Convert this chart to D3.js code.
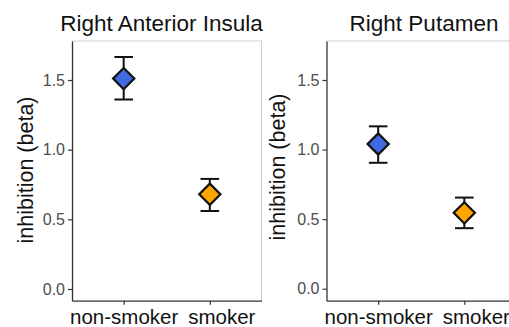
<!DOCTYPE html>
<html><head><meta charset="utf-8">
<script src="https://cdn.jsdelivr.net/npm/d3@7"></script>
<style>
html,body{margin:0;padding:0;background:#fff;}
svg{display:block;font-family:"Liberation Sans",Arial,Helvetica,sans-serif;}
</style></head>
<body>
<svg id="c" width="509" height="327"></svg>
<script>
const categories = ["non-smoker", "smoker"];
const panelTitles = ["Right Anterior Insula", "Right Putamen"];
const insulaMean = [1.51, 0.68];
const insulaLower = [1.36, 0.56];
const insulaUpper = [1.665, 0.79];
const putamenMean = [1.04, 0.545];
const putamenLower = [0.905, 0.435];
const putamenUpper = [1.167, 0.655];
const yTicks = [0, 0.5, 1.0, 1.5];
const yLabel = "inhibition (beta)";
const groupColors = ["#4169E1", "#FFA500"];

const panels = [
  {title: panelTitles[0], mean: insulaMean, lower: insulaLower, upper: insulaUpper,
   left: 72, titleX: 161.5, labelX: 33, labelY: 170, zero: 289},
  {title: panelTitles[1], mean: putamenMean, lower: putamenLower, upper: putamenUpper,
   left: 326.5, titleX: 424, labelX: 285, labelY: 167, zero: 288.7}
];
const pw = 189.5, panelTop = 41, panelBottom = 300.7;
const labelShift = [0, 11.5];

const svg = d3.select("#c");

panels.forEach(p => {
  const g = svg.append("g");
  const x = d3.scalePoint().domain(categories).range([p.left, p.left + pw]).padding(0.6);
  const k = (p.zero - 80) / 1.5;
  const y = d3.scaleLinear()
    .domain([(p.zero - panelBottom) / k, (p.zero - panelTop) / k])
    .range([panelBottom, panelTop]);

  // top/right border
  g.append("path")
    .attr("d", `M${p.left},${panelTop}H${p.left + pw}V${panelBottom}`)
    .attr("fill", "none").attr("stroke", "#cfcfcf").attr("stroke-width", 1.2);

  // y axis
  const ya = g.append("g").attr("transform", `translate(${p.left},0)`)
    .call(d3.axisLeft(y).tickValues(yTicks).tickFormat(d3.format(".1f")).tickSize(4).tickPadding(3).tickSizeOuter(0));
  ya.select(".domain").attr("stroke", "#333").attr("stroke-width", 1.3);
  ya.selectAll(".tick line").attr("stroke", "#333").attr("stroke-width", 1.2);
  ya.selectAll(".tick text").attr("fill", "#4d4d4d").style("font-size", "16px").attr("font-family", null);

  // x axis
  const xa = g.append("g").attr("transform", `translate(0,${panelBottom})`)
    .call(d3.axisBottom(x).tickSize(4).tickSizeOuter(0));
  xa.select(".domain").attr("stroke", "#333").attr("stroke-width", 1.3);
  xa.selectAll(".tick line").attr("stroke", "#333").attr("stroke-width", 1.2);
  xa.selectAll(".tick text").attr("fill", "#111").style("font-size", "20.5px")
    .attr("font-family", null).attr("dy", null).attr("y", 23)
    .attr("dx", (c, i) => labelShift[i]);

  // title
  g.append("text").attr("x", p.titleX).attr("y", 31).attr("text-anchor", "middle")
    .style("font-size", "22.5px").attr("fill", "#111").text(p.title);

  // y label
  g.append("text").attr("transform", `translate(${p.labelX},${p.labelY}) rotate(-90)`)
    .attr("text-anchor", "middle").style("font-size", "21.5px").attr("fill", "#111").text(yLabel);

  // error bars
  categories.forEach((c, i) => {
    const cx = x(c);
    g.append("line").attr("x1", cx).attr("x2", cx).attr("y1", y(p.lower[i])).attr("y2", y(p.upper[i]))
      .attr("stroke", "#111").attr("stroke-width", 2);
    [p.lower[i], p.upper[i]].forEach(v => {
      g.append("line").attr("x1", cx - 9.3).attr("x2", cx + 9.3).attr("y1", y(v)).attr("y2", y(v))
        .attr("stroke", "#111").attr("stroke-width", 2);
    });
  });

  // diamonds
  g.selectAll("path.pt").data(categories).join("path").attr("class", "pt")
    .attr("d", d3.symbol(d3.symbolSquare, 225)())
    .attr("transform", (c, i) => `translate(${x(c)},${y(p.mean[i])}) rotate(45)`)
    .attr("fill", (c, i) => groupColors[i])
    .attr("stroke", "#111").attr("stroke-width", 2.2);
});
</script>
</body></html>
